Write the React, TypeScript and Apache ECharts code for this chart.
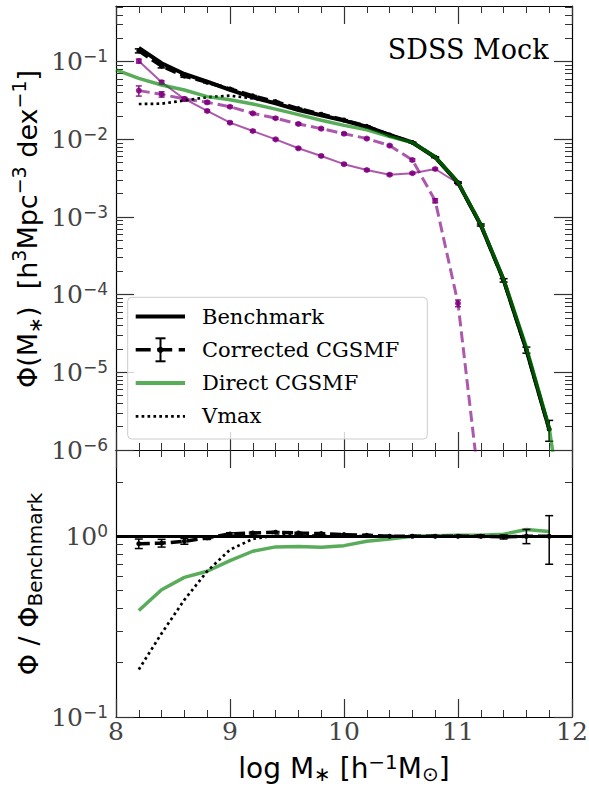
import { useEffect, useRef } from "react";
import * as echarts from "echarts";

// ---------- data ----------
const massBins = [8.2, 8.4, 8.6, 8.8, 9.0, 9.2, 9.4, 9.6, 9.8, 10.0, 10.2, 10.4, 10.6, 10.8, 11.0, 11.2, 11.4, 11.6, 11.8];
const benchmarkPhi = [0.151, 0.0955, 0.0695, 0.0553, 0.0433, 0.0348, 0.0291, 0.0239, 0.0204, 0.0174, 0.01455, 0.01138, 0.00912, 0.00589, 0.00277, 7.89e-4, 1.55e-4, 1.94e-5, 1.85e-6];
const correctedPhi = [0.138, 0.0875, 0.0652, 0.0542, 0.0446, 0.0363, 0.0306, 0.0249, 0.0211, 0.01774, 0.01472, 0.01138, 0.00912, 0.00589, 0.00277, 7.89e-4, 1.53e-4, 1.94e-5, 1.85e-6];
const correctedRelErr = [0.06, 0.05, 0.035, 0.02, 0.015, 0.012, 0.01, 0.01, 0.01, 0.01, 0.01, 0.01, 0.012, 0.015, 0.02, 0.03, 0.05, 0.09, 0.3];
const vmaxPhi = [0.0285, 0.0288, 0.0316, 0.0349, 0.0365, 0.0337, 0.0294, 0.0239, 0.0204, 0.0174, 0.01455, 0.01138, 0.00912, 0.00589, 0.00277, 7.89e-4, 1.55e-4, 1.94e-5, 1.85e-6];
const directBins = [8.0, 8.2, 8.4, 8.6, 8.8, 9.0, 9.2, 9.4, 9.6, 9.8, 10.0, 10.2, 10.4, 10.6, 10.8, 11.0, 11.2, 11.4, 11.6, 11.8, 12.0];
const directPhi = [0.0782, 0.061, 0.0501, 0.0432, 0.0355, 0.0324, 0.0285, 0.0245, 0.0208, 0.0176, 0.01514, 0.01327, 0.01084, 0.00912, 0.00593, 0.0028, 8.04e-4, 1.58e-4, 2.11e-5, 1.93e-6, 2.0e-8];
const subsetSolidBins = [8.2, 8.4, 8.6, 8.8, 9.0, 9.2, 9.4, 9.6, 9.8, 10.0, 10.2, 10.4, 10.6, 10.8, 11.0];
const subsetSolidPhi = [0.102, 0.0543, 0.0331, 0.0232, 0.0164, 0.0128, 0.01, 0.00767, 0.00611, 0.00479, 0.00403, 0.00351, 0.00366, 0.00415, 0.00272];
const subsetSolidRelErr = [0.06, 0.05, 0.04, 0.03, 0.03, 0.03, 0.03, 0.03, 0.03, 0.03, 0.03, 0.03, 0.03, 0.03, 0.04];
const subsetDashedBins = [8.2, 8.4, 8.6, 8.8, 9.0, 9.2, 9.4, 9.6, 9.8, 10.0, 10.2, 10.4, 10.6, 10.8, 11.0, 11.2];
const subsetDashedPhi = [0.0424, 0.038, 0.0331, 0.03, 0.0263, 0.0216, 0.0187, 0.0158, 0.01374, 0.01183, 0.01023, 0.00832, 0.00542, 0.00162, 7.76e-5, 2.34e-7];
const subsetDashedRelErr = [0.15, 0.08, 0.05, 0.04, 0.03, 0.03, 0.03, 0.03, 0.03, 0.03, 0.03, 0.03, 0.04, 0.06, 0.1, 0.5];

// ratios to the benchmark (lower panel)
const directRatio = [0.388, 0.506, 0.592, 0.64, 0.733, 0.826, 0.873, 0.877, 0.869, 0.887, 0.938, 0.966, 1.0, 1.007, 1.012, 1.014, 1.026, 1.089, 1.062];
const vmaxRatio = [0.183, 0.29, 0.445, 0.64, 0.843, 0.966, 1.009, 1.012, 1.007, 1.005, 1.0, 1.0, 1.0, 1.0, 1.0, 1.0, 1.0, 1.0, 1.0];
const correctedRatio = [0.91, 0.916, 0.938, 0.98, 1.03, 1.042, 1.052, 1.042, 1.035, 1.021, 1.012, 1.0, 1.0, 1.0, 1.0, 1.0, 0.991, 1.0, 1.0];
const correctedRatioErr = [0.055, 0.045, 0.035, 0.02, 0.015, 0.012, 0.01, 0.01, 0.01, 0.01, 0.01, 0.01, 0.01, 0.01, 0.012, 0.015, 0.025, 0.09, 0.3];

// axes ticks
const xMajor = [8, 9, 10, 11, 12];
const topYMajor = [-6, -5, -4, -3, -2, -1];
const botYMajor = [-1, 0];

// ---------- styling ----------
const X_MIN = 8, X_MAX = 12;
const TOP_MIN = -6, TOP_MAX = -0.283;
const BOT_MIN = -1, BOT_MAX = Math.log10(3);
const PURPLE_LINE = "rgba(128,0,128,0.65)";
const PURPLE_MARK = "rgba(128,0,128,0.85)";
const GREEN = "rgba(0,128,0,0.65)";
const SERIF = "DejaVu Serif";
const SANS = "DejaVu Sans";
const TICK_COLOR = "#333";
const LABEL_COLOR = "#444";

const xMinor: number[] = [];
for (let i = 0; i <= 20; i++) {
  const v = +(8 + i * 0.2).toFixed(1);
  if (!xMajor.includes(v)) xMinor.push(v);
}
const topYMinor: number[] = [];
for (let n = -6; n <= -1; n++) for (let k = 2; k <= 9; k++) {
  const v = n + Math.log10(k);
  if (v < TOP_MAX) topYMinor.push(v);
}
const botYMinor: number[] = [];
for (let k = 2; k <= 9; k++) botYMinor.push(-1 + Math.log10(k));
botYMinor.push(Math.log10(2));

const pow10Label = (v: number) => {
  const n = Math.round(v);
  return `{b|10}{s|${n < 0 ? "\u2212" + Math.abs(n) : String(n)}}`;
};

const AX_LINE = { show: true, onZero: false, lineStyle: { color: "#000", width: 1.2 } };
const NO_LINE = { show: false, onZero: false };

function makeAxis(kind: "x" | "y", grid: number, position: string, ticks: number[], major: boolean, labels: boolean) {
  const isX = kind === "x";
  const min = isX ? X_MIN : grid === 0 ? TOP_MIN : BOT_MIN;
  const max = isX ? X_MAX : grid === 0 ? TOP_MAX : BOT_MAX;
  const ax: any = {
    type: "value",
    gridIndex: grid,
    position,
    min,
    max,
    axisLine: major ? AX_LINE : NO_LINE,
    axisTick: {
      show: true,
      inside: true,
      length: major ? 18 : 7,
      customValues: ticks,
      lineStyle: { color: TICK_COLOR, width: major ? 1.2 : 1 },
    },
    splitLine: { show: false },
    axisLabel: { show: false },
  };
  if (labels) {
    ax.axisLabel = isX
      ? { show: true, customValues: ticks, margin: 2, fontFamily: SERIF, fontSize: 25, color: LABEL_COLOR }
      : {
          show: true,
          customValues: ticks,
          margin: 8,
          formatter: pow10Label,
          rich: {
            b: { fontFamily: SERIF, fontSize: 25, color: LABEL_COLOR, lineHeight: 28, verticalAlign: "middle" },
            s: { fontFamily: SANS, fontSize: 17, color: LABEL_COLOR, lineHeight: 16, verticalAlign: "top" },
          },
        };
  }
  return ax;
}

const logPts = (xs: number[], ys: number[]) => ys.map((y, i) => [xs[i], Math.log10(y)]);
const relErrPts = (xs: number[], ys: number[], e: number[]) =>
  ys.map((y, i) => [xs[i], Math.log10(y * (1 - e[i])), Math.log10(y * (1 + e[i]))]);
const absErrPts = (xs: number[], ys: number[], e: number[]) =>
  ys.map((y, i) => [xs[i], Math.log10(y - e[i]), Math.log10(y + e[i])]);

function errorBars(xi: number, yi: number, data: number[][], color: string, cap: number, width: number, z: number) {
  return {
    type: "custom",
    xAxisIndex: xi,
    yAxisIndex: yi,
    z,
    clip: true,
    encode: { x: 0, y: [1, 2] },
    data,
    renderItem: (_p: any, api: any) => {
      const x = api.value(0);
      const a = api.coord([x, api.value(1)]);
      const b = api.coord([x, api.value(2)]);
      const st = { stroke: color, lineWidth: width };
      return {
        type: "group",
        children: [
          { type: "line", shape: { x1: a[0], y1: a[1], x2: b[0], y2: b[1] }, style: st },
          { type: "line", shape: { x1: a[0] - cap, y1: a[1], x2: a[0] + cap, y2: a[1] }, style: st },
          { type: "line", shape: { x1: b[0] - cap, y1: b[1], x2: b[0] + cap, y2: b[1] }, style: st },
        ],
      };
    },
  };
}

function lineSeries(xi: number, yi: number, data: number[][], color: string, width: number, type: any, z: number, symbol?: { size: number; color: string }) {
  return {
    type: "line",
    xAxisIndex: xi,
    yAxisIndex: yi,
    data,
    z,
    clip: true,
    showSymbol: !!symbol,
    symbol: symbol ? "circle" : "none",
    symbolSize: symbol ? symbol.size : 0,
    itemStyle: symbol ? { color: symbol.color, borderWidth: 0 } : undefined,
    lineStyle: { color, width, type, cap: "butt" },
    emphasis: { disabled: true },
  };
}

function buildOption(): any {
  const xAxis = [
    makeAxis("x", 0, "bottom", xMajor, true, false),
    makeAxis("x", 0, "top", xMajor, true, false),
    makeAxis("x", 0, "bottom", xMinor, false, false),
    makeAxis("x", 0, "top", xMinor, false, false),
    makeAxis("x", 1, "bottom", xMajor, true, true),
    makeAxis("x", 1, "top", xMajor, true, false),
    makeAxis("x", 1, "bottom", xMinor, false, false),
    makeAxis("x", 1, "top", xMinor, false, false),
  ];
  const yAxis = [
    makeAxis("y", 0, "left", topYMajor, true, true),
    makeAxis("y", 0, "right", topYMajor, true, false),
    makeAxis("y", 0, "left", topYMinor, false, false),
    makeAxis("y", 0, "right", topYMinor, false, false),
    makeAxis("y", 1, "left", botYMajor, true, true),
    makeAxis("y", 1, "right", botYMajor, true, false),
    makeAxis("y", 1, "left", botYMinor, false, false),
    makeAxis("y", 1, "right", botYMinor, false, false),
  ];

  const DOT = [2.7, 3.2];
  const series: any[] = [
    // ---- top panel ----
    lineSeries(0, 0, logPts(subsetSolidBins, subsetSolidPhi), PURPLE_LINE, 2, "solid", 2, { size: 6, color: PURPLE_MARK }),
    errorBars(0, 0, relErrPts(subsetSolidBins, subsetSolidPhi, subsetSolidRelErr), PURPLE_MARK, 3, 1.5, 2),
    lineSeries(0, 0, logPts(subsetDashedBins, subsetDashedPhi), PURPLE_LINE, 3, [11, 5], 2, { size: 6, color: PURPLE_MARK }),
    errorBars(0, 0, relErrPts(subsetDashedBins, subsetDashedPhi, subsetDashedRelErr), PURPLE_MARK, 3, 1.5, 2),
    lineSeries(0, 0, logPts(massBins, vmaxPhi), "#000", 2.7, DOT, 3),
    lineSeries(0, 0, logPts(massBins, benchmarkPhi), "#000", 4, "solid", 4),
    lineSeries(0, 0, logPts(massBins, correctedPhi), "#000", 3.5, [11, 5], 5, { size: 5, color: "#000" }),
    errorBars(0, 0, relErrPts(massBins, correctedPhi, correctedRelErr), "#000", 4, 1.5, 5),
    lineSeries(0, 0, logPts(directBins, directPhi), GREEN, 3.5, "solid", 6),
    // ---- bottom panel ----
    lineSeries(4, 4, logPts(massBins, directRatio), GREEN, 3.5, "solid", 2),
    lineSeries(4, 4, logPts(massBins, vmaxRatio), "#000", 2.7, DOT, 3),
    {
      ...lineSeries(4, 4, logPts(massBins, correctedRatio), "#000", 3.5, [11, 5], 4, { size: 5, color: "#000" }),
      markLine: {
        silent: true,
        symbol: "none",
        label: { show: false },
        lineStyle: { color: "#000", width: 3, type: "solid" },
        emphasis: { disabled: true },
        data: [{ yAxis: 0 }],
      },
    },
    errorBars(4, 4, absErrPts(massBins, correctedRatio, correctedRatioErr), "#000", 4, 1.5, 5),
  ];

  const legendY = [316.5, 349.8, 383.1, 416.4];
  const legendText = (t: string, y: number) => ({
    type: "text",
    x: 202,
    y,
    z: 51,
    style: { text: t, fontFamily: SERIF, fontSize: 21, fill: "#000", verticalAlign: "middle", align: "left" },
  });
  const lx1 = 135.7, lx2 = 185, lxc = 160.5;

  const graphic: any[] = [
    {
      type: "rect",
      z: 50,
      shape: { x: 127.7, y: 297.3, width: 299.6, height: 141.7, r: 4 },
      style: { fill: "rgba(255,255,255,0.8)", stroke: "#cccccc", lineWidth: 1 },
    },
    { type: "line", z: 51, shape: { x1: lx1, y1: legendY[0], x2: lx2, y2: legendY[0] }, style: { stroke: "#000", lineWidth: 4 } },
    { type: "line", z: 51, shape: { x1: lx1, y1: legendY[1], x2: lx2, y2: legendY[1] }, style: { stroke: "#000", lineWidth: 3.5, lineDash: [15, 6.5] } },
    { type: "line", z: 51, shape: { x1: lxc, y1: legendY[1] - 11.5, x2: lxc, y2: legendY[1] + 11.5 }, style: { stroke: "#000", lineWidth: 2 } },
    { type: "line", z: 51, shape: { x1: lxc - 5, y1: legendY[1] - 11.5, x2: lxc + 5, y2: legendY[1] - 11.5 }, style: { stroke: "#000", lineWidth: 2 } },
    { type: "line", z: 51, shape: { x1: lxc - 5, y1: legendY[1] + 11.5, x2: lxc + 5, y2: legendY[1] + 11.5 }, style: { stroke: "#000", lineWidth: 2 } },
    { type: "circle", z: 51, shape: { cx: lxc, cy: legendY[1], r: 3 }, style: { fill: "#000" } },
    { type: "line", z: 51, shape: { x1: lx1, y1: legendY[2], x2: lx2, y2: legendY[2] }, style: { stroke: GREEN, lineWidth: 4 } },
    { type: "line", z: 51, shape: { x1: lx1, y1: legendY[3], x2: lx2, y2: legendY[3] }, style: { stroke: "#000", lineWidth: 2.7, lineDash: DOT } },
    legendText("Benchmark", legendY[0]),
    legendText("Corrected CGSMF", legendY[1]),
    legendText("Direct CGSMF", legendY[2]),
    legendText("Vmax", legendY[3]),
    {
      type: "text",
      x: 548.5,
      y: 49,
      z: 51,
      style: { text: "SDSS Mock", fontFamily: SERIF, fontSize: 27, fill: "#000", align: "right", verticalAlign: "middle" },
    },
    // axis titles
    {
      type: "text",
      x: 27,
      y: 229,
      rotation: Math.PI / 2,
      z: 51,
      style: {
        text: "{n|\u03A6(M}{d|\u2217}{n|)  [h}{u|3}{n|Mpc}{u|\u22123}{n| dex}{u|\u22121}{n|]}",
        align: "center",
        verticalAlign: "middle",
        fill: "#000",
        rich: {
          n: { fontFamily: SANS, fontSize: 27, lineHeight: 35, verticalAlign: "middle", fill: "#000" },
          u: { fontFamily: SANS, fontSize: 19, lineHeight: 19, verticalAlign: "top", fill: "#000" },
          d: { fontFamily: SANS, fontSize: 19, lineHeight: 19, verticalAlign: "bottom", fill: "#000" },
        },
      },
    },
    {
      type: "text",
      x: 28,
      y: 584,
      rotation: Math.PI / 2,
      z: 51,
      style: {
        text: "{n|\u03A6 / \u03A6}{d|Benchmark}",
        align: "center",
        verticalAlign: "middle",
        fill: "#000",
        rich: {
          n: { fontFamily: SANS, fontSize: 27, lineHeight: 34, verticalAlign: "middle", fill: "#000" },
          d: { fontFamily: SANS, fontSize: 20, lineHeight: 20, verticalAlign: "bottom", fill: "#000" },
        },
      },
    },
    {
      type: "text",
      x: 344,
      y: 768,
      z: 51,
      style: {
        text: "{n|log M}{d|\u2217}{n| [h}{u|\u22121}{n|M}{d|\u2299}{n|]}",
        align: "center",
        verticalAlign: "middle",
        fill: "#000",
        rich: {
          n: { fontFamily: SANS, fontSize: 28, lineHeight: 32, verticalAlign: "middle", fill: "#000" },
          u: { fontFamily: SANS, fontSize: 20, lineHeight: 18, verticalAlign: "top", fill: "#000" },
          d: { fontFamily: SANS, fontSize: 20, lineHeight: 18, verticalAlign: "bottom", fill: "#000" },
        },
      },
    },
  ];

  return {
    animation: false,
    backgroundColor: "#fff",
    grid: [
      { left: 116, top: 6, width: 456, height: 444, containLabel: false, outerBoundsMode: "none" },
      { left: 116, top: 450, width: 456, height: 267, containLabel: false, outerBoundsMode: "none" },
    ],
    xAxis,
    yAxis,
    series,
    graphic,
  };
}

export default function App() {
  const ref = useRef<HTMLDivElement>(null);
  useEffect(() => {
    document.body.style.margin = "0";
    const chart = echarts.init(ref.current!, null, { renderer: "svg" });
    chart.setOption(buildOption());
    return () => chart.dispose();
  }, []);
  return <div ref={ref} style={{ width: 589, height: 787 }} />;
}
